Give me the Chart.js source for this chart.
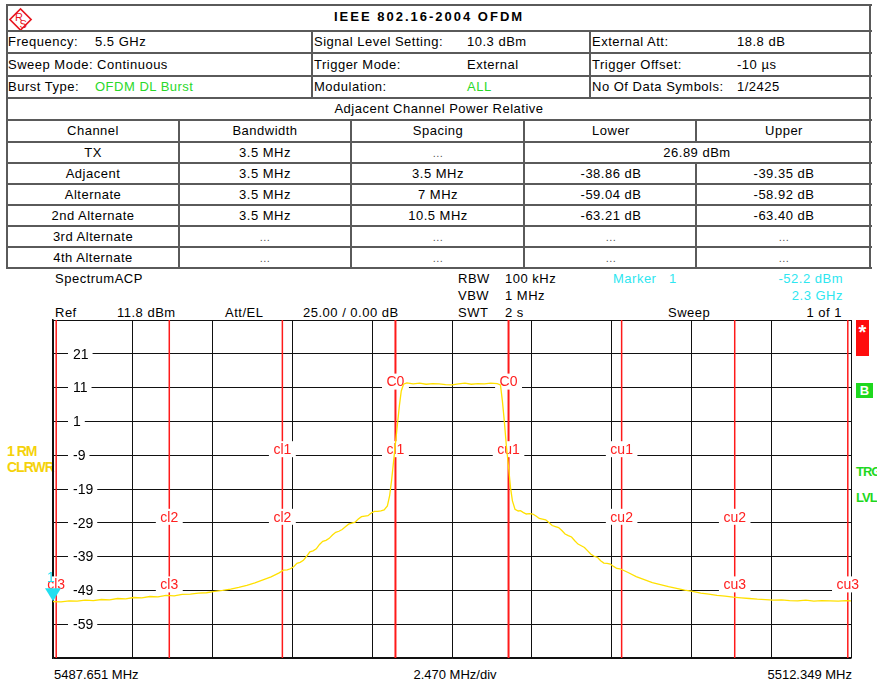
<!DOCTYPE html>
<html><head><meta charset="utf-8">
<script src="https://cdn.jsdelivr.net/npm/chart.js@4"></script>
<style>
html,body{margin:0;padding:0;background:#fff;width:877px;height:683px;overflow:hidden;}
body{position:relative;font-family:"Liberation Sans",Arial,sans-serif;font-size:13px;color:#000;}
.t{position:absolute;white-space:nowrap;line-height:16px;height:16px;letter-spacing:0.5px;}
.c{transform:translateX(-50%);}
.r{transform:translateX(-100%);}
.g{color:#2ad82a;}
.cy{color:#2ee6f0;}
.dots{color:#555;font-size:11px;}
.h{position:absolute;height:2px;background:#5a5a5a;}
.v{position:absolute;width:2px;background:#5a5a5a;}
#cv{position:absolute;left:0;top:0;}
.side{position:absolute;font-weight:bold;letter-spacing:-1px;white-space:nowrap;line-height:16px;}
</style></head><body>

<!-- logo -->
<svg style="position:absolute;left:7px;top:6px" width="27" height="27" viewBox="0 0 27 27">
  <rect x="6" y="6" width="15" height="15" transform="rotate(45 13.5 13.5)" fill="none" stroke="#e8141e" stroke-width="1.6"/>
  <text x="8" y="15" font-family="Liberation Sans, Arial" font-size="11" fill="#e8141e">R</text>
  <text x="12.5" y="22" font-family="Liberation Sans, Arial" font-size="11" fill="#e8141e">S</text>
</svg>

<!-- table lines -->
<div class="h" style="left:6px;width:866px;top:4px"></div>
<div class="h" style="left:6px;width:866px;top:30px"></div>
<div class="h" style="left:6px;width:866px;top:52px"></div>
<div class="h" style="left:6px;width:866px;top:75px"></div>
<div class="h" style="left:6px;width:866px;top:97px"></div>
<div class="h" style="left:6px;width:866px;top:119px"></div>
<div class="h" style="left:6px;width:866px;top:141px"></div>
<div class="h" style="left:6px;width:866px;top:162px"></div>
<div class="h" style="left:6px;width:866px;top:183px"></div>
<div class="h" style="left:6px;width:866px;top:204px"></div>
<div class="h" style="left:6px;width:866px;top:225px"></div>
<div class="h" style="left:6px;width:866px;top:246px"></div>
<div class="h" style="left:6px;width:866px;top:267px"></div>
<div class="v" style="left:6px;top:4px;height:265px"></div>
<div class="v" style="left:869px;top:4px;height:265px"></div>
<div class="v" style="left:311px;top:30px;height:68px"></div>
<div class="v" style="left:589px;top:30px;height:68px"></div>
<div class="v" style="left:178px;top:119px;height:150px"></div>
<div class="v" style="left:350px;top:119px;height:150px"></div>
<div class="v" style="left:523px;top:119px;height:150px"></div>
<div class="v" style="left:695px;top:119px;height:23px"></div>
<div class="v" style="left:695px;top:162px;height:107px"></div>

<!-- table text -->
<div class="t" style="left:334px;top:9px;font-weight:bold;letter-spacing:2px">IEEE 802.16-2004 OFDM</div>
<div class="t" style="left:8px;top:34px">Frequency:</div>
<div class="t" style="left:95px;top:34px">5.5 GHz</div>
<div class="t" style="left:314px;top:34px">Signal Level Setting:</div>
<div class="t" style="left:467px;top:34px">10.3 dBm</div>
<div class="t" style="left:592px;top:34px">External Att:</div>
<div class="t" style="left:737px;top:34px">18.8 dB</div>
<div class="t" style="left:8px;top:57px">Sweep Mode: Continuous</div>
<div class="t" style="left:314px;top:57px">Trigger Mode:</div>
<div class="t" style="left:467px;top:57px">External</div>
<div class="t" style="left:592px;top:57px">Trigger Offset:</div>
<div class="t" style="left:737px;top:57px">-10 µs</div>
<div class="t" style="left:8px;top:79px">Burst Type:</div>
<div class="t g" style="left:95px;top:79px">OFDM DL Burst</div>
<div class="t" style="left:314px;top:79px">Modulation:</div>
<div class="t g" style="left:467px;top:79px">ALL</div>
<div class="t" style="left:592px;top:79px">No Of Data Symbols:</div>
<div class="t" style="left:737px;top:79px">1/2425</div>
<div class="t c" style="left:439px;top:101px">Adjacent Channel Power Relative</div>

<div class="t c" style="left:93px;top:123px">Channel</div>
<div class="t c" style="left:265px;top:123px">Bandwidth</div>
<div class="t c" style="left:438px;top:123px">Spacing</div>
<div class="t c" style="left:611px;top:123px">Lower</div>
<div class="t c" style="left:784px;top:123px">Upper</div>

<div class="t c" style="left:93px;top:145px">TX</div>
<div class="t c" style="left:265px;top:145px">3.5 MHz</div>
<div class="t c dots" style="left:438px;top:145px">...</div>
<div class="t c" style="left:697px;top:145px">26.89 dBm</div>

<div class="t c" style="left:93px;top:166px">Adjacent</div>
<div class="t c" style="left:265px;top:166px">3.5 MHz</div>
<div class="t c" style="left:438px;top:166px">3.5 MHz</div>
<div class="t c" style="left:611px;top:166px">-38.86 dB</div>
<div class="t c" style="left:784px;top:166px">-39.35 dB</div>

<div class="t c" style="left:93px;top:187px">Alternate</div>
<div class="t c" style="left:265px;top:187px">3.5 MHz</div>
<div class="t c" style="left:438px;top:187px">7 MHz</div>
<div class="t c" style="left:611px;top:187px">-59.04 dB</div>
<div class="t c" style="left:784px;top:187px">-58.92 dB</div>

<div class="t c" style="left:93px;top:208px">2nd Alternate</div>
<div class="t c" style="left:265px;top:208px">3.5 MHz</div>
<div class="t c" style="left:438px;top:208px">10.5 MHz</div>
<div class="t c" style="left:611px;top:208px">-63.21 dB</div>
<div class="t c" style="left:784px;top:208px">-63.40 dB</div>

<div class="t c" style="left:93px;top:229px">3rd Alternate</div>
<div class="t c dots" style="left:265px;top:229px">...</div>
<div class="t c dots" style="left:438px;top:229px">...</div>
<div class="t c dots" style="left:611px;top:229px">...</div>
<div class="t c dots" style="left:784px;top:229px">...</div>

<div class="t c" style="left:93px;top:250px">4th Alternate</div>
<div class="t c dots" style="left:265px;top:250px">...</div>
<div class="t c dots" style="left:438px;top:250px">...</div>
<div class="t c dots" style="left:611px;top:250px">...</div>
<div class="t c dots" style="left:784px;top:250px">...</div>

<!-- spectrum header -->
<div class="t" style="left:55px;top:271px">SpectrumACP</div>
<div class="t" style="left:458px;top:271px">RBW</div>
<div class="t" style="left:505px;top:271px">100 kHz</div>
<div class="t cy" style="left:613px;top:271px">Marker</div>
<div class="t cy" style="left:669px;top:271px">1</div>
<div class="t r cy" style="left:843px;top:271px">-52.2 dBm</div>
<div class="t" style="left:458px;top:288px">VBW</div>
<div class="t" style="left:505px;top:288px">1 MHz</div>
<div class="t r cy" style="left:843px;top:288px">2.3 GHz</div>
<div class="t" style="left:55px;top:305px">Ref</div>
<div class="t" style="left:117px;top:305px">11.8 dBm</div>
<div class="t" style="left:225px;top:305px">Att/EL</div>
<div class="t" style="left:303px;top:305px">25.00 / 0.00 dB</div>
<div class="t" style="left:458px;top:305px">SWT</div>
<div class="t" style="left:505px;top:305px">2 s</div>
<div class="t" style="left:668px;top:305px">Sweep</div>
<div class="t r" style="left:842px;top:305px">1 of 1</div>

<!-- side annotations -->
<div class="side" style="left:7px;top:443px;color:#f5d20a;font-size:14px;">1 RM</div>
<div class="side" style="left:7px;top:459px;color:#f5d20a;font-size:14px;">CLRWR</div>
<div style="position:absolute;left:856px;top:320px;width:13px;height:36px;background:#ff0d0d;color:#fff;font-weight:bold;font-size:20px;text-align:center;line-height:24px;">*</div>
<div style="position:absolute;left:856px;top:383px;width:17px;height:15px;background:#1ed81e;color:#fff;font-weight:bold;font-size:13px;text-align:center;line-height:15px;">B</div>
<div class="side" style="left:856px;top:464px;color:#1ed81e;font-size:13px;">TRG</div>
<div class="side" style="left:856px;top:490px;color:#1ed81e;font-size:13px;">LVL</div>

<!-- bottom labels -->
<div class="t" style="left:54px;top:667px;letter-spacing:0">5487.651 MHz</div>
<div class="t c" style="left:455px;top:667px;letter-spacing:0">2.470 MHz/div</div>
<div class="t r" style="left:852px;top:667px;letter-spacing:0">5512.349 MHz</div>

<canvas id="cv" width="877" height="683"></canvas>

<script>
// ---- axis definitions ----
const xMinMHz = 5487.651;
const xMaxMHz = 5512.349;
const xTickValuesMHz = [5487.651, 5490.121, 5492.591, 5495.061, 5497.530, 5500.000, 5502.470, 5504.940, 5507.409, 5509.879, 5512.349];
const yMinDbm = -69;
const yMaxDbm = 31;
const yTickValuesDbm = [-69, -59, -49, -39, -29, -19, -9, 1, 11, 21, 31];
const yTickLabelValues = [21, 11, 1, -9, -19, -29, -39, -49, -59];
const yTickLabels = ['21', '11', '1', '-9', '-19', '-29', '-39', '-49', '-59'];

// ---- trace ----
const traceFreqMHz = [
  5487.651, 5487.90, 5488.15, 5488.40, 5488.65, 5488.90, 5489.15, 5489.40, 5489.65, 5489.90,
  5490.15, 5490.40, 5490.65, 5490.90, 5491.15, 5491.40, 5491.65, 5491.90, 5492.15, 5492.40,
  5492.65, 5492.90, 5493.15, 5493.40, 5493.65, 5493.90, 5494.15, 5494.40, 5494.65, 5494.78,
  5494.90, 5495.00, 5495.10, 5495.20, 5495.30, 5495.40, 5495.50, 5495.60, 5495.70, 5495.80,
  5495.90, 5496.00, 5496.10, 5496.20, 5496.30, 5496.40, 5496.50, 5496.60, 5496.70, 5496.80,
  5496.90, 5497.00, 5497.10, 5497.20, 5497.30, 5497.40, 5497.50, 5497.60, 5497.70, 5497.80,
  5497.90, 5498.00, 5498.07, 5498.13, 5498.19, 5498.25, 5498.31, 5498.37, 5498.43, 5498.50,
  5498.60, 5498.80, 5499.00, 5499.20, 5499.40, 5499.60, 5499.80, 5500.00, 5500.20, 5500.40,
  5500.60, 5500.80, 5501.00, 5501.20, 5501.40, 5501.50, 5501.56, 5501.62, 5501.68, 5501.75,
  5501.81, 5501.87, 5501.95, 5502.05, 5502.12, 5502.20, 5502.30, 5502.40, 5502.50, 5502.60,
  5502.70, 5502.80, 5502.90, 5503.00, 5503.10, 5503.20, 5503.30, 5503.40, 5503.50, 5503.60,
  5503.70, 5503.80, 5503.90, 5504.00, 5504.10, 5504.20, 5504.30, 5504.40, 5504.50, 5504.60,
  5504.70, 5504.80, 5504.90, 5505.00, 5505.10, 5505.20, 5505.45, 5505.70, 5505.95, 5506.20,
  5506.45, 5506.70, 5506.95, 5507.20, 5507.45, 5507.70, 5507.95, 5508.20, 5508.45, 5508.70,
  5508.95, 5509.20, 5509.45, 5509.70, 5509.95, 5510.20, 5510.45, 5510.70, 5510.95, 5511.20,
  5511.45, 5511.70, 5511.95, 5512.20, 5512.349
];
const traceLevelDbm = [
  -52.3, -52.4, -52.1, -52.2, -51.9, -52.0, -51.7, -51.8, -51.4, -51.5,
  -51.1, -51.2, -50.8, -50.9, -50.5, -50.6, -50.2, -50.1, -49.8, -49.7,
  -49.3, -49.0, -48.6, -48.1, -47.5, -46.8, -45.9, -45.0, -43.8, -43.0,
  -42.9, -42.6, -42.0, -41.0, -40.7, -40.1, -38.9, -37.6, -37.3, -36.7,
  -35.4, -34.5, -34.2, -33.6, -32.6, -31.8, -31.5, -31.0, -30.2, -29.4,
  -29.1, -28.8, -27.9, -27.2, -27.0, -26.9, -26.1, -25.6, -25.6, -25.5,
  -25.2, -24.0, -21.0, -16.5, -11.0, -5.5, 0.0, 5.5, 10.0, 12.0,
  12.4, 12.1, 12.3, 12.0, 12.2, 12.1, 11.9, 11.8, 12.1, 12.3,
  12.0, 12.2, 12.1, 12.3, 12.2, 11.8, 7.0, 1.0, -6.0, -12.5,
  -18.5, -22.5, -25.0, -25.5, -25.4, -25.9, -26.4, -26.3, -26.4, -27.0,
  -27.7, -27.9, -28.1, -28.9, -29.8, -30.1, -30.4, -31.3, -32.3, -32.8,
  -33.2, -34.3, -35.3, -35.8, -36.3, -37.3, -38.3, -38.9, -39.2, -40.2,
  -40.9, -41.0, -41.2, -41.9, -42.5, -42.6, -43.7, -44.9, -45.8, -46.7,
  -47.3, -47.9, -48.4, -48.9, -49.3, -49.8, -50.1, -50.5, -50.7, -51.0,
  -51.2, -51.4, -51.6, -51.7, -51.9, -51.8, -52.0, -52.1, -51.9, -52.2,
  -52.0, -52.1, -52.2, -52.0, -52.1
];

// ---- ACP channel edges and labels ----
const channelEdgesMHz = [5487.75, 5491.25, 5494.75, 5498.25, 5501.75, 5505.25, 5508.75, 5512.25];
const channelEdgeWidths = [1.5, 1.5, 1.5, 2, 2, 1.5, 1.5, 1.5];
const channelLabelText = ['cl3', 'cl3', 'cl2', 'cl2', 'cl1', 'cl1', 'C0', 'C0', 'cu1', 'cu1', 'cu2', 'cu2', 'cu3', 'cu3'];
const channelLabelFreqMHz = [5487.75, 5491.25, 5491.25, 5494.75, 5494.75, 5498.25, 5498.25, 5501.75, 5501.75, 5505.25, 5505.25, 5508.75, 5508.75, 5512.25];
const channelLabelLevelDbm = [-49, -49, -29, -29, -9, -9, 11, 11, -9, -9, -29, -29, -49, -49];

// ---- marker ----
const markerFreqMHz = [5487.651];
const markerLevelDbm = [-52.2];
const markerNames = ['1'];

const FONT = '"Liberation Sans", Arial, sans-serif';

const overlay = {
  id: 'overlay',
  beforeDatasetsDraw(chart) {
    const { ctx, chartArea: a, scales: { x, y } } = chart;
    ctx.save();
    ctx.font = '14px ' + FONT;
    ctx.textBaseline = 'middle';
    ctx.textAlign = 'left';
    yTickLabelValues.forEach((v, i) => {
      const py = y.getPixelForValue(v);
      const t = yTickLabels[i];
      const w = ctx.measureText(t).width;
      ctx.fillStyle = '#fff';
      ctx.fillRect(a.left + 15, py - 7, w + 9, 14);
      ctx.fillStyle = '#000';
      ctx.fillText(t, a.left + 20, py + 1);
    });
    ctx.strokeStyle = '#ff1a1a';
    channelEdgesMHz.forEach((f, i) => {
      const px = x.getPixelForValue(f);
      ctx.lineWidth = channelEdgeWidths[i];
      ctx.beginPath();
      ctx.moveTo(px, a.top);
      ctx.lineTo(px, a.bottom);
      ctx.stroke();
    });
    ctx.font = '14px ' + FONT;
    ctx.textAlign = 'center';
    channelLabelText.forEach((t, i) => {
      const px = x.getPixelForValue(channelLabelFreqMHz[i]);
      const py = y.getPixelForValue(channelLabelLevelDbm[i]) - 6;
      const w = ctx.measureText(t).width + 9;
      ctx.fillStyle = '#fff';
      ctx.fillRect(px - w / 2, py - 8, w, 16);
      ctx.fillStyle = '#ff2020';
      ctx.fillText(t, px, py + 1);
    });
    ctx.restore();
  },
  afterDatasetsDraw(chart) {
    const { ctx, scales: { x, y } } = chart;
    ctx.save();
    markerFreqMHz.forEach((f, i) => {
      const px = x.getPixelForValue(f);
      const py = y.getPixelForValue(markerLevelDbm[i]);
      ctx.fillStyle = '#22dff0';
      ctx.beginPath();
      ctx.moveTo(px, py);
      ctx.lineTo(px - 8, py - 13);
      ctx.lineTo(px + 8, py - 13);
      ctx.closePath();
      ctx.fill();
      ctx.font = '14px ' + FONT;
      ctx.textAlign = 'center';
      ctx.textBaseline = 'middle';
      ctx.fillText(markerNames[i], px - 2, py - 23);
    });
    ctx.restore();
  }
};

new Chart(document.getElementById('cv'), {
  type: 'line',
  data: {
    datasets: [{
      data: traceFreqMHz.map((f, i) => ({ x: f, y: traceLevelDbm[i] })),
      borderColor: '#ffe000',
      borderWidth: 1.3,
      pointRadius: 0,
      tension: 0,
      fill: false
    }]
  },
  options: {
    responsive: false,
    animation: false,
    devicePixelRatio: 1,
    layout: { padding: { left: 53, top: 320, right: 26, bottom: 25 } },
    plugins: { legend: { display: false }, tooltip: { enabled: false } },
    scales: {
      x: {
        type: 'linear', min: xMinMHz, max: xMaxMHz,
        afterBuildTicks: (s) => { s.ticks = xTickValuesMHz.map(v => ({ value: v })); },
        ticks: { display: false },
        grid: { color: '#111', lineWidth: 1, drawTicks: false },
        border: { display: true, color: '#111', width: 1.5 }
      },
      y: {
        type: 'linear', min: yMinDbm, max: yMaxDbm,
        afterBuildTicks: (s) => { s.ticks = yTickValuesDbm.map(v => ({ value: v })); },
        ticks: { display: false },
        grid: { color: '#111', lineWidth: 1, drawTicks: false },
        border: { display: true, color: '#111', width: 1.5 }
      }
    }
  },
  plugins: [overlay]
});
</script>
</body></html>
